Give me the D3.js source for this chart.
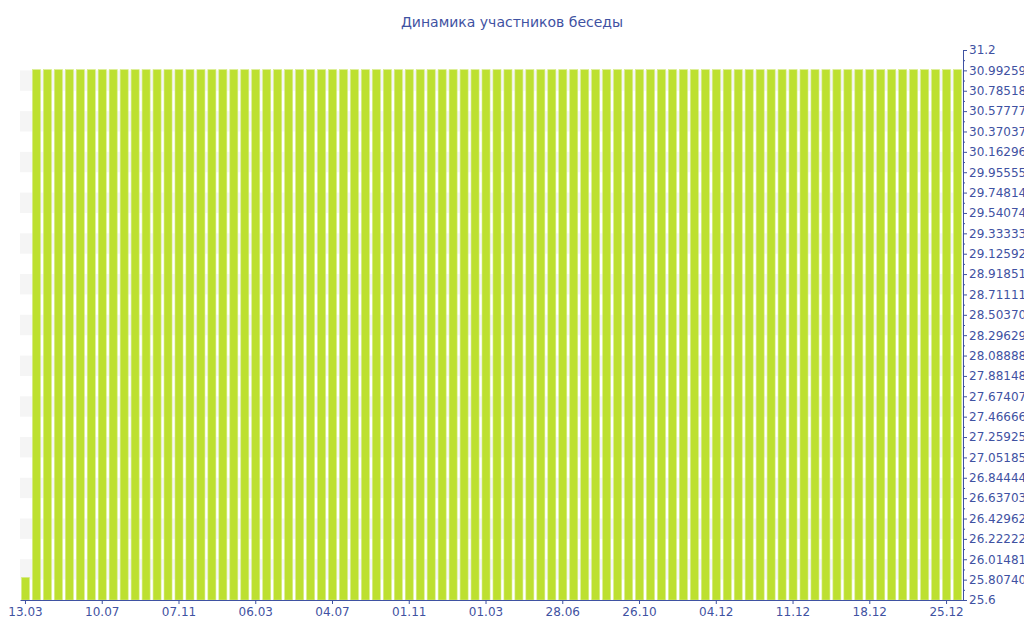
<!DOCTYPE html>
<html>
<head>
<meta charset="utf-8">
<script src="https://cdn.jsdelivr.net/npm/d3@7"></script>
<style>
  body { margin: 0; background: #fff; }
  svg { display: block; font-family: "DejaVu Sans", Verdana, sans-serif; }
</style>
</head>
<body>
<svg width="1024" height="640"></svg>
<script>
'use strict'

var title = 'Динамика участников беседы'

// members per day, one bar each
var members = [
  25.83, 31, 31, 31, 31, 31, 31, 31, 31, 31, 31, 31, 31, 31, 31, 31, 31, 31, 31, 31,
  31, 31, 31, 31, 31, 31, 31, 31, 31, 31, 31, 31, 31, 31, 31, 31, 31, 31, 31, 31,
  31, 31, 31, 31, 31, 31, 31, 31, 31, 31, 31, 31, 31, 31, 31, 31, 31, 31, 31, 31,
  31, 31, 31, 31, 31, 31, 31, 31, 31, 31, 31, 31, 31, 31, 31, 31, 31, 31, 31, 31,
  31, 31, 31, 31, 31, 31
]

// date labels shown under every 7th bar
var dateLabels = ['13.03', '10.07', '07.11', '06.03', '04.07', '01.11', '01.03',
  '28.06', '26.10', '04.12', '11.12', '18.12', '25.12']
var labelStep = 7

var yMin = 25.6, yMax = 31.2, yIntervals = 27

var svg = d3.select('svg')
var axisColour = '#3f52a2'

var margin = { left: 20, right: 963, top: 50, bottom: 600 }

var x = d3.scaleBand()
  .domain(members.map(function(d, i) { return i }))
  .range([margin.left, margin.right])
  .paddingInner(0.27)
  .paddingOuter(0.135)

var y = d3.scaleLinear()
  .domain([yMin, yMax])
  .range([margin.bottom, margin.top])

var yStep = (yMax - yMin) / yIntervals
var yTicks = d3.range(yIntervals + 1).map(function(k) { return yMin + k * yStep })

// alternating bands between ticks
svg.append('g')
  .selectAll('rect')
  .data(yTicks.slice(0, -1).filter(function(d, i) { return i % 2 == 1 }))
  .enter().append('rect')
  .attr('x', margin.left)
  .attr('width', margin.right - margin.left)
  .attr('y', function(d) { return y(d + yStep) })
  .attr('height', function(d) { return y(d) - y(d + yStep) })
  .attr('fill', '#f5f5f5')

svg.append('g')
  .selectAll('rect')
  .data(members)
  .enter().append('rect')
  .attr('x', function(d, i) { return x(i) })
  .attr('width', x.bandwidth())
  .attr('y', function(d) { return y(d) })
  .attr('height', function(d) { return y(yMin) - y(d) })
  .attr('fill', '#bde030')
  .attr('stroke', '#d6ec86')
  .attr('stroke-width', 0.6)

// x axis
var xAxis = d3.axisBottom(x)
  .tickValues(dateLabels.map(function(d, i) { return i * labelStep }))
  .tickFormat(function(d) { return dateLabels[d / labelStep] })
  .tickSize(4)
  .tickSizeOuter(0)
  .tickPadding(3)

svg.append('g')
  .attr('transform', 'translate(0,' + margin.bottom + ')')
  .call(xAxis)

// y axis on the right, minor ticks halfway
var yMinor = yTicks.slice(0, -1).map(function(d) { return d + yStep / 2 })

svg.append('g')
  .attr('transform', 'translate(' + margin.right + ',0)')
  .call(d3.axisRight(y).tickValues(yMinor).tickSize(2).tickFormat(''))

var yAxis = d3.axisRight(y)
  .tickValues(yTicks)
  .tickFormat(function(d) { return String(+d.toFixed(10)) })
  .tickSize(4)
  .tickSizeOuter(0)
  .tickPadding(2)

svg.append('g')
  .attr('transform', 'translate(' + margin.right + ',0)')
  .call(yAxis)

svg.selectAll('.domain, .tick line').attr('stroke', axisColour)
svg.selectAll('.tick text').attr('fill', axisColour).style('font-size', '12px')
  .style('font-family', '"DejaVu Sans", Verdana, sans-serif')

svg.append('text')
  .attr('x', 512)
  .attr('y', 27)
  .attr('text-anchor', 'middle')
  .attr('fill', axisColour)
  .style('font-size', '14px')
  .text(title)
</script>
</body>
</html>
